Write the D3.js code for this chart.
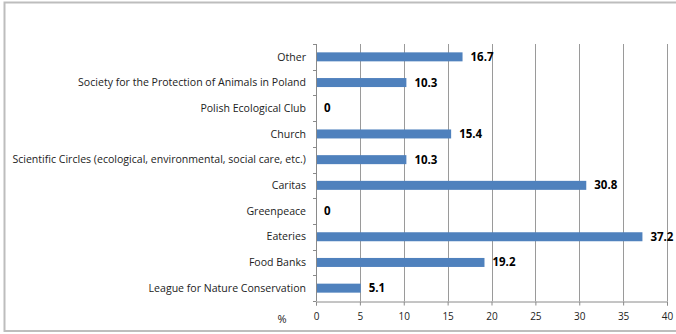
<!DOCTYPE html>
<html>
<head>
<meta charset="utf-8">
<script src="https://cdn.jsdelivr.net/npm/d3@7"></script>
<style>
  body { margin: 0; background: #fff; }
</style>
</head>
<body>
<div id="chart"></div>
<script>
// categories, top to bottom
var categories = [
  "Other",
  "Society for the Protection of Animals in Poland",
  "Polish Ecological Club",
  "Church",
  "Scientific Circles (ecological, environmental, social care, etc.)",
  "Caritas",
  "Greenpeace",
  "Eateries",
  "Food Banks",
  "League for Nature Conservation"
];
var values = [16.7, 10.3, 0, 15.4, 10.3, 30.8, 0, 37.2, 19.2, 5.1];
var xTicks = [0, 5, 10, 15, 20, 25, 30, 35, 40];

var W = 676, H = 334;
// plot area (note: "top" is window.top, so use other names)
var pLeft = 316, pRight = 667, pTop = 44, pBottom = 301;

var svg = d3.select("#chart").append("svg")
    .attr("width", W)
    .attr("height", H);

// outer frame
svg.append("rect")
    .attr("x", 4.5).attr("y", 2.5)
    .attr("width", 700).attr("height", 328.5)
    .attr("fill", "none")
    .attr("stroke", "#bdbdbd")
    .attr("stroke-width", 2);

var x = d3.scaleLinear().domain([0, 40]).range([pLeft, pRight]);
var y = d3.scaleBand().domain(categories).range([pTop, pBottom]).paddingInner(0.65).paddingOuter(0.325);

// vertical gridlines
svg.append("g")
  .selectAll("line")
  .data(xTicks.slice(1))
  .enter().append("line")
    .attr("x1", function(d) { return Math.round(x(d)) + 0.5; })
    .attr("x2", function(d) { return Math.round(x(d)) + 0.5; })
    .attr("y1", pTop).attr("y2", pBottom)
    .attr("stroke", "#9a9a9a");

// bars
svg.append("g")
  .selectAll("rect")
  .data(values)
  .enter().append("rect")
    .attr("x", x(0))
    .attr("y", function(d, i) { return y(categories[i]); })
    .attr("width", function(d) { return x(d) - x(0); })
    .attr("height", y.bandwidth())
    .attr("fill", "#4f81bd");

// value labels
svg.append("g")
  .selectAll("text")
  .data(values)
  .enter().append("text")
    .attr("x", function(d) { return x(d) + 8; })
    .attr("y", function(d, i) { return y(categories[i]) + y.bandwidth() / 2; })
    .attr("dy", "0.35em")
    .attr("font-family", "Open Sans, Noto Sans, sans-serif")
    .attr("font-weight", "bold")
    .attr("font-size", 11.5)
    .attr("fill", "#000")
    .text(function(d) { return d; });

// x axis
var xAxis = svg.append("g")
    .attr("transform", "translate(0," + (pBottom + 0.5) + ")")
    .call(d3.axisBottom(x).tickValues(xTicks).tickSize(4).tickPadding(7).tickFormat(d3.format("d")));
xAxis.select(".domain").attr("stroke", "#8a8a8a");
xAxis.selectAll(".tick line").attr("stroke", "#8a8a8a");
xAxis.selectAll("text")
    .attr("font-family", "Open Sans, Noto Sans, sans-serif")
    .attr("font-size", 10)
    .attr("fill", "#222");

// y axis: ticks on category boundaries
var yLine = svg.append("g");
yLine.append("line")
    .attr("x1", pLeft + 0.5).attr("x2", pLeft + 0.5)
    .attr("y1", pTop).attr("y2", pBottom)
    .attr("stroke", "#8a8a8a");
var step = (pBottom - pTop) / categories.length;
yLine.selectAll(".yt")
  .data(d3.range(categories.length + 1))
  .enter().append("line")
    .attr("x1", pLeft - 3).attr("x2", pLeft)
    .attr("y1", function(i) { return Math.round(pTop + i * step) + 0.5; })
    .attr("y2", function(i) { return Math.round(pTop + i * step) + 0.5; })
    .attr("stroke", "#8a8a8a");

// category labels
var labels = svg.append("g")
  .selectAll("text")
  .data(categories)
  .enter().append("text")
    .attr("x", pLeft - 10)
    .attr("y", function(d) { return y(d) + y.bandwidth() / 2; })
    .attr("dy", "0.35em")
    .attr("text-anchor", "end")
    .attr("font-family", "Liberation Sans Narrow, Open Sans, sans-serif")
    .attr("font-size", 11)
    .attr("fill", "#222")
    .text(function(d) { return d; });

// shrink labels so the longest one fits like the original (x ~12 to 306)
var longest = d3.max(labels.nodes(), function(n) { return n.getComputedTextLength(); });
if (longest > 294) {
  labels.attr("font-size", 11 * 294 / longest);
}

// % label
svg.append("text")
    .attr("x", 282).attr("y", 323)
    .attr("text-anchor", "middle")
    .attr("font-family", "Open Sans, Noto Sans, sans-serif")
    .attr("font-size", 11)
    .attr("fill", "#222")
    .text("%");
</script>
</body>
</html>
